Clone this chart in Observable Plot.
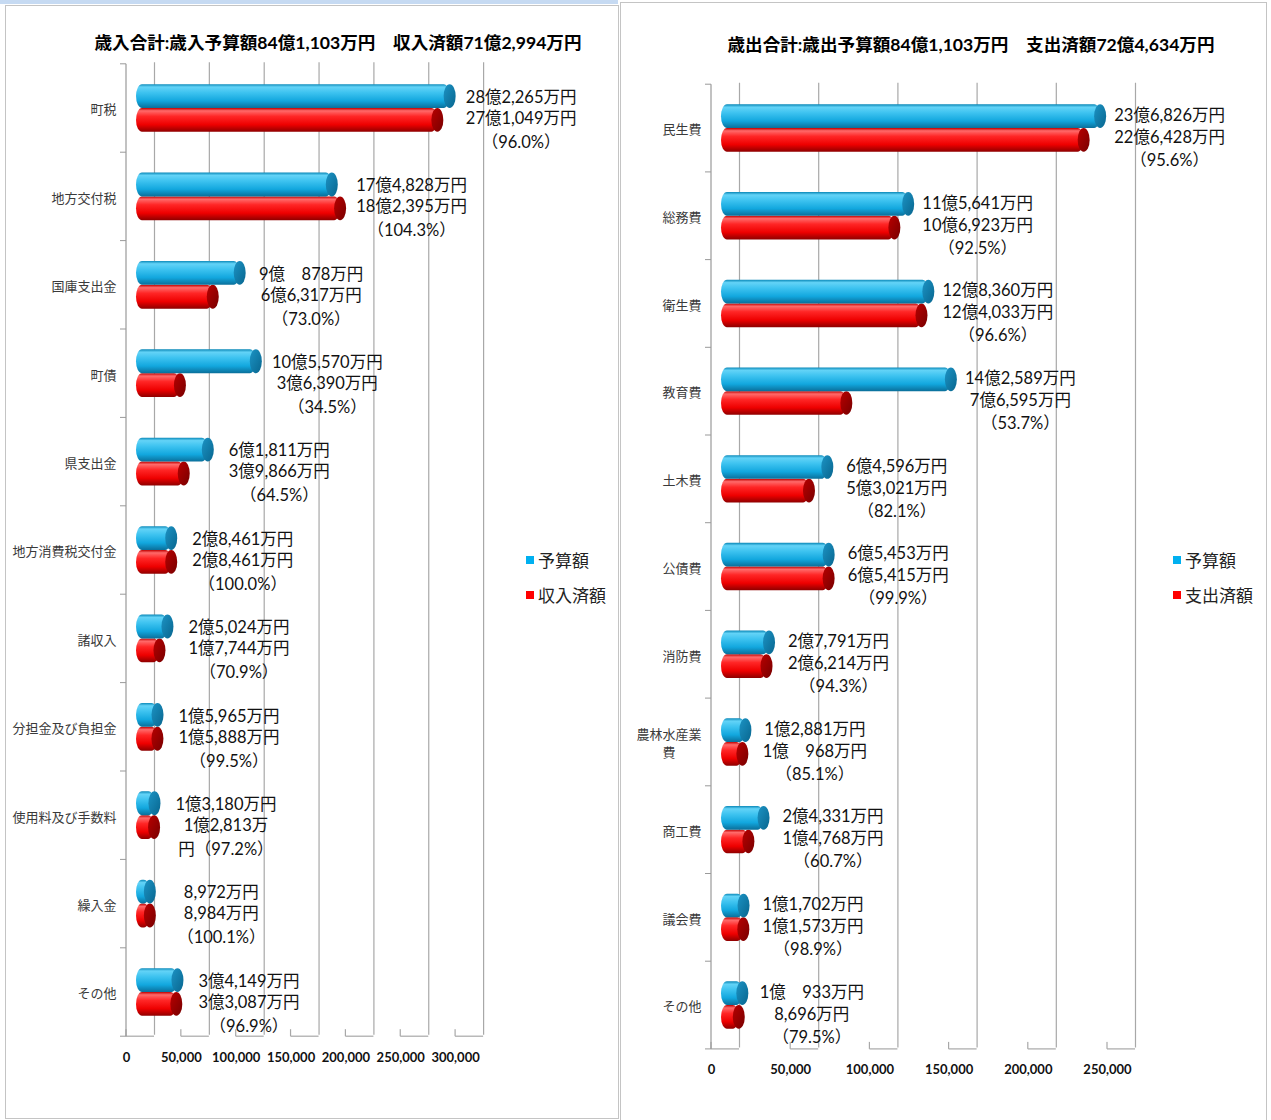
<!DOCTYPE html>
<html>
<head>
<meta charset="utf-8">
<script src="https://cdn.jsdelivr.net/npm/d3@7"></script>
<script src="https://cdn.jsdelivr.net/npm/@observablehq/plot@0.6"></script>
<style>
  html, body { margin: 0; padding: 0; background: #fff; }
  body { width: 1271px; height: 1120px; position: relative; overflow: hidden;
         font-family: Lato, "Noto Sans CJK JP", sans-serif; }
  .band { position: absolute; left: 0; top: 0; width: 618px; height: 4px; background: #c6daf2; }
  .panel { position: absolute; border: 1px solid #c4c4c4; box-sizing: border-box; }
  .title { position: absolute; font-weight: bold; font-size: 17.6px; white-space: nowrap;
           transform: translate(-50%, -50%); color: #000; }
  .chart { position: absolute; top: 0; }
  .legend { position: absolute; font-size: 17px; color: #222; }
  .legend div { display: flex; align-items: center; height: 35px; }
  .legend span.sw { width: 8px; height: 8px; display: inline-block; margin-right: 4px; }
</style>
</head>
<body>
<div class="band"></div>
<div class="panel" style="left:5px;top:5px;width:614px;height:1114px;"></div>
<div class="panel" style="left:620px;top:2px;width:647px;height:1130px;"></div>
<div id="root"></div>
<script>
// ---------------- 歳入 (revenue) ----------------
const revenueTitle = "歳入合計:歳入予算額84億1,103万円　収入済額71億2,994万円";
const revenueCategories = ["町税", "地方交付税", "国庫支出金", "町債", "県支出金", "地方消費税交付金",
  "諸収入", "分担金及び負担金", "使用料及び手数料", "繰入金", "その他"];
const revenueBudget = [282265, 174828, 90878, 105570, 61811, 28461, 25024, 15965, 13180, 8972, 34149];
const revenueActual = [271049, 182395, 66317, 36390, 39866, 28461, 17744, 15888, 12813, 8984, 33087];
const revenueBudgetLabels = ["28億2,265万円", "17億4,828万円", "9億　878万円", "10億5,570万円", "6億1,811万円",
  "2億8,461万円", "2億5,024万円", "1億5,965万円", "1億3,180万円", "8,972万円", "3億4,149万円"];
const revenueActualLabels = ["27億1,049万円", "18億2,395万円", "6億6,317万円", "3億6,390万円", "3億9,866万円",
  "2億8,461万円", "1億7,744万円", "1億5,888万円", "1億2,813万", "8,984万円", "3億3,087万円"];
const revenueRateLabels = ["（96.0%）", "（104.3%）", "（73.0%）", "（34.5%）", "（64.5%）", "（100.0%）",
  "（70.9%）", "（99.5%）", "円（97.2%）", "（100.1%）", "（96.9%）"];
const revenueTicks = [0, 50000, 100000, 150000, 200000, 250000, 300000];
const revenueLegend = ["予算額", "収入済額"];

// ---------------- 歳出 (expenditure) ----------------
const expenseTitle = "歳出合計:歳出予算額84億1,103万円　支出済額72億4,634万円";
const expenseCategories = ["民生費", "総務費", "衛生費", "教育費", "土木費", "公債費", "消防費",
  "農林水産業費", "商工費", "議会費", "その他"];
const expenseBudget = [236826, 115641, 128360, 142589, 64596, 65453, 27791, 12881, 24331, 11702, 10933];
const expenseActual = [226428, 106923, 124033, 76595, 53021, 65415, 26214, 10968, 14768, 11573, 8696];
const expenseBudgetLabels = ["23億6,826万円", "11億5,641万円", "12億8,360万円", "14億2,589万円", "6億4,596万円",
  "6億5,453万円", "2億7,791万円", "1億2,881万円", "2億4,331万円", "1億1,702万円", "1億　933万円"];
const expenseActualLabels = ["22億6,428万円", "10億6,923万円", "12億4,033万円", "7億6,595万円", "5億3,021万円",
  "6億5,415万円", "2億6,214万円", "1億　968万円", "1億4,768万円", "1億1,573万円", "8,696万円"];
const expenseRateLabels = ["（95.6%）", "（92.5%）", "（96.6%）", "（53.7%）", "（82.1%）", "（99.9%）",
  "（94.3%）", "（85.1%）", "（60.7%）", "（98.9%）", "（79.5%）"];
const expenseTicks = [0, 50000, 100000, 150000, 200000, 250000];
const expenseLegend = ["予算額", "支出済額"];

const seriesColors = ["#00b0f0", "#ff0000"];

const defs = `
<defs>
 <linearGradient id="blueBody" x1="0" y1="0" x2="0" y2="1">
  <stop offset="0" stop-color="#0a88b8"/>
  <stop offset="0.12" stop-color="#63d3f7"/>
  <stop offset="0.35" stop-color="#3ec3f0"/>
  <stop offset="0.7" stop-color="#12a7de"/>
  <stop offset="1" stop-color="#0a6f9a"/>
 </linearGradient>
 <linearGradient id="redBody" x1="0" y1="0" x2="0" y2="1">
  <stop offset="0" stop-color="#c00000"/>
  <stop offset="0.12" stop-color="#ff6a6a"/>
  <stop offset="0.35" stop-color="#ff2626"/>
  <stop offset="0.7" stop-color="#ee0000"/>
  <stop offset="1" stop-color="#8e0000"/>
 </linearGradient>
 <linearGradient id="blueCap" x1="0" y1="0" x2="1" y2="1">
  <stop offset="0" stop-color="#1c93c4"/>
  <stop offset="1" stop-color="#08668f"/>
 </linearGradient>
 <linearGradient id="redCap" x1="0" y1="0" x2="1" y2="1">
  <stop offset="0" stop-color="#b80000"/>
  <stop offset="1" stop-color="#780000"/>
 </linearGradient>
</defs>`;

function catLabel(name) {
  return name === "農林水産業費" ? "農林水産業\n費　　" : name;
}

function drawChart(cfg) {
  const rows = cfg.categories.map((c, i) => ({
    i, cat: catLabel(c), budget: cfg.budget[i], actual: cfg.actual[i],
    top: Math.max(cfg.budget[i], cfg.actual[i]),
    bl: cfg.budgetLabels[i], al: cfg.actualLabels[i], rl: cfg.rateLabels[i]
  }));
  const n = cfg.categories.length;
  const yTop = -0.5, yBot = n - 0.5;
  const bounds = d3.range(-0.5, n, 1);
  const off = 14; // 3D depth offset in px
  const h = 0.27;
  const grid = "#a8a8a8";
  const svg = Plot.plot({
    width: cfg.width,
    height: 1120,
    x: {domain: [0, cfg.ticks[cfg.ticks.length - 1]], range: cfg.xRange, axis: null},
    y: {domain: [yTop, yBot], range: cfg.yRange, axis: null},
    style: {background: "transparent", overflow: "visible", fontFamily: "Lato, 'Noto Sans CJK JP', sans-serif"},
    marks: [
      // back-wall gridlines
      Plot.ruleX(cfg.ticks, {x: d => d, y1: yTop, y2: yBot, dx: off, dy: -1.5, stroke: grid, strokeWidth: 1.2}),
      // floor depth segments
      Plot.rect(cfg.ticks, {x1: d => d, x2: d => d, y1: yBot, y2: yBot, insetLeft: -off, insetRight: -off,
        insetTop: -0.6, insetBottom: -0.6, fill: grid}),
      // front floor ticks
      Plot.rect(cfg.ticks, {x1: d => d, x2: d => d, y1: yBot, y2: yBot, insetLeft: -off - 0.6, insetRight: off - 0.6,
        insetTop: -7, insetBottom: 0, fill: grid}),
      // left axis line
      Plot.rect([0], {x1: 0, x2: 0, y1: yTop, y2: yBot, insetLeft: -off - 0.6, insetRight: off - 0.6, fill: "#9a9a9a"}),
      // category separator ticks
      Plot.rect(bounds, {x1: 0, x2: 0, y1: d => d, y2: d => d, insetLeft: -off - 6, insetRight: off,
        insetTop: -0.5, insetBottom: -0.5, fill: "#9a9a9a"}),
      // actual (red) cylinders
      Plot.rect(rows, {x1: 0, x2: "actual", y1: d => d.i, y2: d => d.i + h, insetLeft: -4, rx: 6, ry: 12, fill: "url(#redBody)"}),
      Plot.rect(rows, {x1: "actual", x2: "actual", y1: d => d.i, y2: d => d.i + h, insetLeft: -6, insetRight: -6, rx: 6, ry: 12, fill: "url(#redCap)"}),
      // budget (blue) cylinders
      Plot.rect(rows, {x1: 0, x2: "budget", y1: d => d.i - h, y2: d => d.i, insetLeft: -4, rx: 6, ry: 12, fill: "url(#blueBody)"}),
      Plot.rect(rows, {x1: "budget", x2: "budget", y1: d => d.i - h, y2: d => d.i, insetLeft: -6, insetRight: -6, rx: 6, ry: 12, fill: "url(#blueCap)"}),
      // category labels
      Plot.text(rows, {x: 0, y: "i", text: "cat", dx: -off - 10, textAnchor: "end", fontSize: 13, fill: "#3a3a3a", lineHeight: 1.4}),
      // value labels
      Plot.text(rows, {x: "top", y: "i", text: "bl", dx: cfg.labelDx, dy: cfg.lineDy[0], textAnchor: "middle", fontSize: 16.5, fill: "#111"}),
      Plot.text(rows, {x: "top", y: "i", text: "al", dx: cfg.labelDx, dy: cfg.lineDy[1], textAnchor: "middle", fontSize: 16.5, fill: "#111"}),
      Plot.text(rows, {x: "top", y: "i", text: "rl", dx: cfg.labelDx, dy: cfg.lineDy[2], textAnchor: "middle", fontSize: 16.5, fill: "#111"}),
      // x tick labels
      Plot.text(cfg.ticks, {x: d => d, y: yBot, dx: -off, dy: cfg.tickDy, text: d => d3.format(",")(d),
        fontWeight: "bold", fontSize: 13, fill: "#111"})
    ]
  });
  svg.insertAdjacentHTML("afterbegin", defs);
  svg.classList.add("chart");
  svg.style.left = cfg.left + "px";
  return svg;
}

const root = document.getElementById("root");

root.appendChild(drawChart({
  left: 0, width: 620,
  categories: revenueCategories, budget: revenueBudget, actual: revenueActual,
  budgetLabels: revenueBudgetLabels, actualLabels: revenueActualLabels, rateLabels: revenueRateLabels,
  ticks: revenueTicks, xRange: [140, 469.1], yRange: [63.8, 1036.2],
  labelDx: 71, lineDy: [-11, 10, 34], tickDy: 21
}));
root.appendChild(drawChart({
  left: 620, width: 651,
  categories: expenseCategories, budget: expenseBudget, actual: expenseActual,
  budgetLabels: expenseBudgetLabels, actualLabels: expenseActualLabels, rateLabels: expenseRateLabels,
  ticks: expenseTicks, xRange: [105, 501], yRange: [84.2, 1048.9],
  labelDx: 69, lineDy: [-13, 9, 32], tickDy: 20
}));

function addTitle(text, cx, cy) {
  const d = document.createElement("div");
  d.className = "title";
  d.style.left = cx + "px";
  d.style.top = cy + "px";
  d.textContent = text;
  document.body.appendChild(d);
}
addTitle(revenueTitle, 338, 41);
addTitle(expenseTitle, 971, 43);

function addLegend(names, x, y) {
  const d = document.createElement("div");
  d.className = "legend";
  d.style.left = x + "px";
  d.style.top = y + "px";
  names.forEach((nm, k) => {
    const row = document.createElement("div");
    const sw = document.createElement("span");
    sw.className = "sw";
    sw.style.background = seriesColors[k];
    row.appendChild(sw);
    row.appendChild(document.createTextNode(nm));
    d.appendChild(row);
  });
  document.body.appendChild(d);
}
addLegend(revenueLegend, 526, 542);
addLegend(expenseLegend, 1173, 542);
</script>
</body>
</html>
